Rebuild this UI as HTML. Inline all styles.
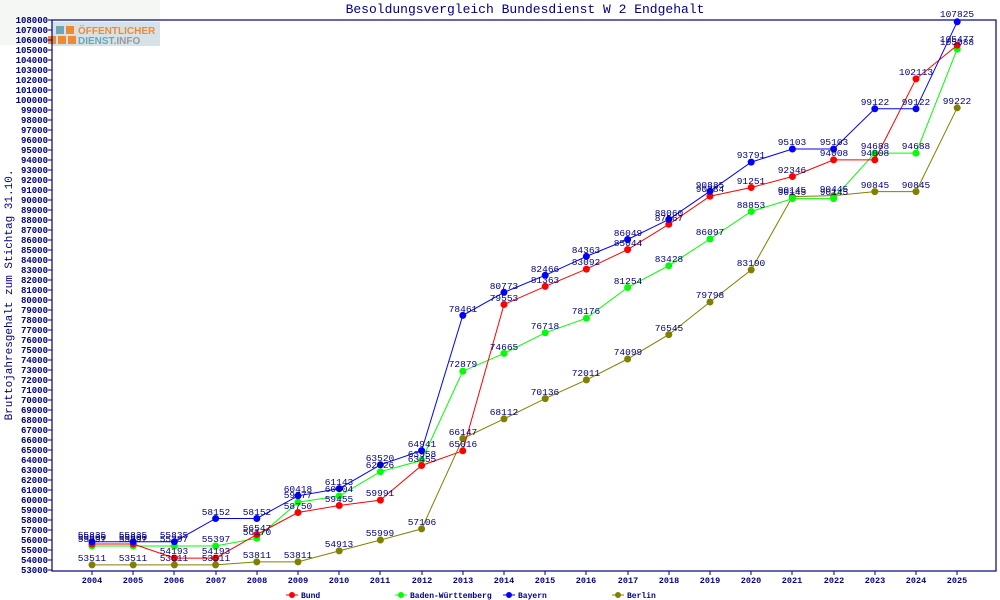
<!DOCTYPE html>
<html><head><meta charset="utf-8"><style>
body{margin:0;background:#fff}
svg{display:block}
text{font-family:"Liberation Mono","DejaVu Sans Mono",monospace;fill:#000080}
.t{font-size:9px;font-weight:bold}
.x{font-size:8.5px;font-weight:bold}
.l{font-size:8px;font-weight:bold}
.v{font-size:9.5px;text-anchor:middle}
</style></head><body>
<svg width="1000" height="600" xmlns="http://www.w3.org/2000/svg">
<rect x="0" y="0" width="160" height="45" fill="#f4f7f4"/>
<rect x="52" y="22" width="108" height="24" fill="#d6e2e8"/>
<rect x="56" y="26" width="8" height="8" fill="#6aa8b8"/>
<rect x="66" y="26" width="8" height="8" fill="#f08a30"/>
<rect x="48" y="36" width="8" height="8" fill="#f08a30"/>
<rect x="58" y="36" width="8" height="8" fill="#f08a30"/>
<rect x="68" y="36" width="8" height="8" fill="#f08a30"/>
<text x="78" y="34" style="font-family:'Liberation Sans',sans-serif;font-size:10px;font-weight:bold;fill:#f08a30">ÖFFENTLICHER</text>
<text x="78" y="44" style="font-family:'Liberation Sans',sans-serif;font-size:10px;font-weight:bold;fill:#6aa8b8">DIENST<tspan style="fill:#999">.INFO</tspan></text>
<text x="525" y="13" style="font-size:13px" text-anchor="middle">Besoldungsvergleich Bundesdienst W 2 Endgehalt</text>
<text transform="translate(12,295) rotate(-90)" style="font-size:11px" text-anchor="middle">Bruttojahresgehalt zum Stichtag 31.10.</text>
<rect x="52" y="20" width="944" height="551" fill="none" stroke="#000080" stroke-width="1.2"/>
<g stroke="#000080">
<path d="M48 20H52M48 30H52M48 40H52M48 50H52M48 60H52M48 70H52M48 80H52M48 90H52M48 100H52M48 110H52M48 120H52M48 130H52M48 140H52M48 150H52M48 160H52M48 170H52M48 180H52M48 190H52M48 200H52M48 210H52M48 220H52M48 230H52M48 240H52M48 250H52M48 260H52M48 270H52M48 280H52M48 290H52M48 300H52M48 310H52M48 320H52M48 330H52M48 340H52M48 350H52M48 360H52M48 370H52M48 380H52M48 390H52M48 400H52M48 410H52M48 420H52M48 430H52M48 440H52M48 450H52M48 460H52M48 470H52M48 480H52M48 490H52M48 500H52M48 510H52M48 520H52M48 530H52M48 540H52M48 550H52M48 560H52M48 570H52"/>
<path d="M92 571V575M133 571V575M174 571V575M216 571V575M257 571V575M298 571V575M339 571V575M380 571V575M422 571V575M463 571V575M504 571V575M545 571V575M586 571V575M628 571V575M669 571V575M710 571V575M751 571V575M792 571V575M834 571V575M875 571V575M916 571V575M957 571V575"/>
</g>
<g class="t" text-anchor="end">
<text x="48" y="23">108000</text><text x="48" y="33">107000</text><text x="48" y="43">106000</text><text x="48" y="53">105000</text><text x="48" y="63">104000</text><text x="48" y="73">103000</text><text x="48" y="83">102000</text><text x="48" y="93">101000</text><text x="48" y="103">100000</text><text x="48" y="113">99000</text><text x="48" y="123">98000</text><text x="48" y="133">97000</text><text x="48" y="143">96000</text><text x="48" y="153">95000</text><text x="48" y="163">94000</text><text x="48" y="173">93000</text><text x="48" y="183">92000</text><text x="48" y="193">91000</text><text x="48" y="203">90000</text><text x="48" y="213">89000</text><text x="48" y="223">88000</text><text x="48" y="233">87000</text><text x="48" y="243">86000</text><text x="48" y="253">85000</text><text x="48" y="263">84000</text><text x="48" y="273">83000</text><text x="48" y="283">82000</text><text x="48" y="293">81000</text><text x="48" y="303">80000</text><text x="48" y="313">79000</text><text x="48" y="323">78000</text><text x="48" y="333">77000</text><text x="48" y="343">76000</text><text x="48" y="353">75000</text><text x="48" y="363">74000</text><text x="48" y="373">73000</text><text x="48" y="383">72000</text><text x="48" y="393">71000</text><text x="48" y="403">70000</text><text x="48" y="413">69000</text><text x="48" y="423">68000</text><text x="48" y="433">67000</text><text x="48" y="443">66000</text><text x="48" y="453">65000</text><text x="48" y="463">64000</text><text x="48" y="473">63000</text><text x="48" y="483">62000</text><text x="48" y="493">61000</text><text x="48" y="503">60000</text><text x="48" y="513">59000</text><text x="48" y="523">58000</text><text x="48" y="533">57000</text><text x="48" y="543">56000</text><text x="48" y="553">55000</text><text x="48" y="563">54000</text><text x="48" y="573">53000</text>
</g>
<g class="x" text-anchor="middle">
<text x="92" y="583">2004</text><text x="133" y="583">2005</text><text x="174" y="583">2006</text><text x="216" y="583">2007</text><text x="257" y="583">2008</text><text x="298" y="583">2009</text><text x="339" y="583">2010</text><text x="380" y="583">2011</text><text x="422" y="583">2012</text><text x="463" y="583">2013</text><text x="504" y="583">2014</text><text x="545" y="583">2015</text><text x="586" y="583">2016</text><text x="628" y="583">2017</text><text x="669" y="583">2018</text><text x="710" y="583">2019</text><text x="751" y="583">2020</text><text x="792" y="583">2021</text><text x="834" y="583">2022</text><text x="875" y="583">2023</text><text x="916" y="583">2024</text><text x="957" y="583">2025</text>
</g>
<!-- Berlin -->
<polyline fill="none" stroke="#808000" stroke-width="1" points="92,564.9 133.2,564.9 174.4,564.9 215.6,564.9 256.8,561.9 298,561.9 339.2,550.9 380.4,540 421.6,528.9 462.8,438.5 504,418.9 545.2,398.6 586.4,379.9 627.6,359 668.8,334.6 710,302 751.2,269.9 792.4,196.6 833.6,195.6 874.8,191.6 916,191.6 957.2,107.8"/>
<g fill="#808000"><circle cx="92" cy="564.9" r="3.5"/><circle cx="133.2" cy="564.9" r="3.5"/><circle cx="174.4" cy="564.9" r="3.5"/><circle cx="215.6" cy="564.9" r="3.5"/><circle cx="256.8" cy="561.9" r="3.5"/><circle cx="298" cy="561.9" r="3.5"/><circle cx="339.2" cy="550.9" r="3.5"/><circle cx="380.4" cy="540" r="3.5"/><circle cx="421.6" cy="528.9" r="3.5"/><circle cx="462.8" cy="438.5" r="3.5"/><circle cx="504" cy="418.9" r="3.5"/><circle cx="545.2" cy="398.6" r="3.5"/><circle cx="586.4" cy="379.9" r="3.5"/><circle cx="627.6" cy="359" r="3.5"/><circle cx="668.8" cy="334.6" r="3.5"/><circle cx="710" cy="302" r="3.5"/><circle cx="751.2" cy="269.9" r="3.5"/><circle cx="792.4" cy="196.6" r="3.5"/><circle cx="833.6" cy="195.6" r="3.5"/><circle cx="874.8" cy="191.6" r="3.5"/><circle cx="916" cy="191.6" r="3.5"/><circle cx="957.2" cy="107.8" r="3.5"/></g>
<!-- BW -->
<polyline fill="none" stroke="#00ff00" stroke-width="1" points="92,546 133.2,546 174.4,546 215.6,546 256.8,538.3 298,502.2 339.2,496 380.4,471.7 421.6,460.4 462.8,371.2 504,353.4 545.2,332.8 586.4,318.2 627.6,287.5 668.8,265.7 710,239 751.2,211.5 792.4,198.6 833.6,198.6 874.8,153.1 916,153.1 957.2,49.1"/>
<g fill="#00ff00"><circle cx="92" cy="546" r="3.5"/><circle cx="133.2" cy="546" r="3.5"/><circle cx="174.4" cy="546" r="3.5"/><circle cx="215.6" cy="546" r="3.5"/><circle cx="256.8" cy="538.3" r="3.5"/><circle cx="298" cy="502.2" r="3.5"/><circle cx="339.2" cy="496" r="3.5"/><circle cx="380.4" cy="471.7" r="3.5"/><circle cx="421.6" cy="460.4" r="3.5"/><circle cx="462.8" cy="371.2" r="3.5"/><circle cx="504" cy="353.4" r="3.5"/><circle cx="545.2" cy="332.8" r="3.5"/><circle cx="586.4" cy="318.2" r="3.5"/><circle cx="627.6" cy="287.5" r="3.5"/><circle cx="668.8" cy="265.7" r="3.5"/><circle cx="710" cy="239" r="3.5"/><circle cx="751.2" cy="211.5" r="3.5"/><circle cx="792.4" cy="198.6" r="3.5"/><circle cx="833.6" cy="198.6" r="3.5"/><circle cx="874.8" cy="153.1" r="3.5"/><circle cx="916" cy="153.1" r="3.5"/><circle cx="957.2" cy="49.1" r="3.5"/></g>
<!-- Bund -->
<polyline fill="none" stroke="#ff0000" stroke-width="1" points="92,544 133.2,544 174.4,558.1 215.6,558.1 256.8,534.5 298,512.5 339.2,505.5 380.4,500.1 421.6,465.5 462.8,450.8 504,304.5 545.2,286.4 586.4,269.1 627.6,249.6 668.8,224.3 710,196.2 751.2,187.5 792.4,176.5 833.6,159.9 874.8,159.9 916,78.9 957.2,45.2"/>
<g fill="#ff0000"><circle cx="92" cy="544" r="3.5"/><circle cx="133.2" cy="544" r="3.5"/><circle cx="174.4" cy="558.1" r="3.5"/><circle cx="215.6" cy="558.1" r="3.5"/><circle cx="256.8" cy="534.5" r="3.5"/><circle cx="298" cy="512.5" r="3.5"/><circle cx="339.2" cy="505.5" r="3.5"/><circle cx="380.4" cy="500.1" r="3.5"/><circle cx="421.6" cy="465.5" r="3.5"/><circle cx="462.8" cy="450.8" r="3.5"/><circle cx="504" cy="304.5" r="3.5"/><circle cx="545.2" cy="286.4" r="3.5"/><circle cx="586.4" cy="269.1" r="3.5"/><circle cx="627.6" cy="249.6" r="3.5"/><circle cx="668.8" cy="224.3" r="3.5"/><circle cx="710" cy="196.2" r="3.5"/><circle cx="751.2" cy="187.5" r="3.5"/><circle cx="792.4" cy="176.5" r="3.5"/><circle cx="833.6" cy="159.9" r="3.5"/><circle cx="874.8" cy="159.9" r="3.5"/><circle cx="916" cy="78.9" r="3.5"/><circle cx="957.2" cy="45.2" r="3.5"/></g>
<!-- Bayern -->
<polyline fill="none" stroke="#0000ff" stroke-width="1" points="92,541.7 133.2,541.7 174.4,541.7 215.6,518.5 256.8,518.5 298,495.8 339.2,488.6 380.4,464.8 421.6,450.6 462.8,315.4 504,292.3 545.2,275.3 586.4,256.4 627.6,239.5 668.8,219.4 710,191.2 751.2,162.1 792.4,149 833.6,149 874.8,108.8 916,108.8 957.2,21.8"/>
<g fill="#0000ff"><circle cx="92" cy="541.7" r="3.5"/><circle cx="133.2" cy="541.7" r="3.5"/><circle cx="174.4" cy="541.7" r="3.5"/><circle cx="215.6" cy="518.5" r="3.5"/><circle cx="256.8" cy="518.5" r="3.5"/><circle cx="298" cy="495.8" r="3.5"/><circle cx="339.2" cy="488.6" r="3.5"/><circle cx="380.4" cy="464.8" r="3.5"/><circle cx="421.6" cy="450.6" r="3.5"/><circle cx="462.8" cy="315.4" r="3.5"/><circle cx="504" cy="292.3" r="3.5"/><circle cx="545.2" cy="275.3" r="3.5"/><circle cx="586.4" cy="256.4" r="3.5"/><circle cx="627.6" cy="239.5" r="3.5"/><circle cx="668.8" cy="219.4" r="3.5"/><circle cx="710" cy="191.2" r="3.5"/><circle cx="751.2" cy="162.1" r="3.5"/><circle cx="792.4" cy="149" r="3.5"/><circle cx="833.6" cy="149" r="3.5"/><circle cx="874.8" cy="108.8" r="3.5"/><circle cx="916" cy="108.8" r="3.5"/><circle cx="957.2" cy="21.8" r="3.5"/></g>
<!-- labels -->
<g class="v">
<text x="92" y="561">53511</text><text x="133" y="561">53511</text><text x="174" y="561">53511</text><text x="216" y="561">53511</text><text x="257" y="558">53811</text><text x="298" y="558">53811</text><text x="339" y="547">54913</text><text x="380" y="536">55999</text><text x="422" y="525">57106</text><text x="463" y="435">66147</text><text x="504" y="415">68112</text><text x="545" y="395">70136</text><text x="586" y="376">72011</text><text x="628" y="355">74099</text><text x="669" y="331">76545</text><text x="710" y="298">79798</text><text x="751" y="266">83190</text><text x="792" y="193">90145</text><text x="834" y="192">90445</text><text x="875" y="188">90845</text><text x="916" y="188">90845</text><text x="957" y="104">99222</text>
<text x="92" y="542">55397</text><text x="133" y="542">55397</text><text x="174" y="542">55397</text><text x="216" y="542">55397</text><text x="257" y="535">56170</text><text x="298" y="498">59777</text><text x="339" y="492">60404</text><text x="380" y="468">62826</text><text x="422" y="457">63958</text><text x="463" y="367">72879</text><text x="504" y="350">74665</text><text x="545" y="329">76718</text><text x="586" y="314">78176</text><text x="628" y="284">81254</text><text x="669" y="262">83428</text><text x="710" y="235">86097</text><text x="751" y="208">88853</text><text x="792" y="195">90145</text><text x="834" y="195">90145</text><text x="875" y="149">94688</text><text x="916" y="149">94688</text><text x="957" y="45">105088</text>
<text x="92" y="540">55600</text><text x="133" y="540">55600</text><text x="174" y="554">54193</text><text x="216" y="554">54193</text><text x="257" y="531">56547</text><text x="298" y="509">58750</text><text x="339" y="502">59455</text><text x="380" y="496">59991</text><text x="422" y="462">63455</text><text x="463" y="447">65016</text><text x="504" y="301">79553</text><text x="545" y="283">81363</text><text x="586" y="265">83092</text><text x="628" y="246">85044</text><text x="669" y="221">87567</text><text x="710" y="192">90384</text><text x="751" y="184">91251</text><text x="792" y="173">92346</text><text x="834" y="156">94008</text><text x="875" y="156">94008</text><text x="916" y="75">102113</text><text x="957" y="42">105477</text>
<text x="92" y="538">55835</text><text x="133" y="538">55835</text><text x="174" y="538">55835</text><text x="216" y="515">58152</text><text x="257" y="515">58152</text><text x="298" y="492">60418</text><text x="339" y="485">61143</text><text x="380" y="461">63520</text><text x="422" y="447">64941</text><text x="463" y="312">78461</text><text x="504" y="289">80773</text><text x="545" y="272">82466</text><text x="586" y="253">84363</text><text x="628" y="236">86049</text><text x="669" y="216">88060</text><text x="710" y="188">90885</text><text x="751" y="158">93791</text><text x="792" y="145">95103</text><text x="834" y="145">95103</text><text x="875" y="105">99122</text><text x="916" y="105">99122</text><text x="957" y="17">107825</text>
</g>
<!-- legend -->
<g class="l">
<line x1="286" y1="595" x2="298" y2="595" stroke="#ff0000"/><circle cx="292" cy="595" r="3" fill="#ff0000"/><text x="301" y="598">Bund</text>
<line x1="395" y1="595" x2="407" y2="595" stroke="#00ff00"/><circle cx="401" cy="595" r="3" fill="#00ff00"/><text x="410" y="598">Baden-Württemberg</text>
<line x1="503" y1="595" x2="515" y2="595" stroke="#0000ff"/><circle cx="509" cy="595" r="3" fill="#0000ff"/><text x="518" y="598">Bayern</text>
<line x1="612" y1="595" x2="624" y2="595" stroke="#808000"/><circle cx="618" cy="595" r="3" fill="#808000"/><text x="627" y="598">Berlin</text>
</g>
</svg>
</body></html>
